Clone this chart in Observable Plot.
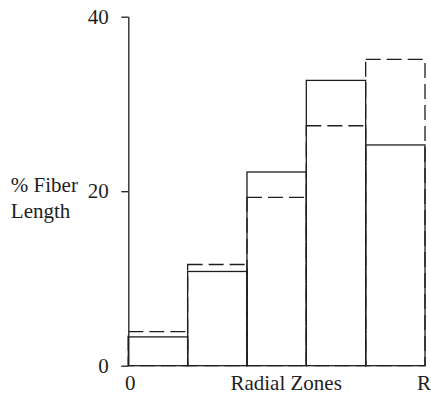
<!DOCTYPE html>
<html>
<head>
<meta charset="utf-8">
<script src="https://cdn.jsdelivr.net/npm/d3@7"></script>
<script src="https://cdn.jsdelivr.net/npm/@observablehq/plot@0.6"></script>
<style>
  html, body { margin: 0; padding: 0; background: #fff; }
</style>
</head>
<body>
<div id="chart"></div>
<script>
// Data
const zoneStart = [0, 1, 2, 3, 4];
const zoneEnd = [1, 2, 3, 4, 5];
const solidValues = [3.3, 10.8, 22.2, 32.7, 25.3];
const dashedValues = [3.9, 11.6, 19.3, 27.5, 35.1];
const yTicks = [0, 20, 40];
const xTicks = [0, 5];
const xTickLabels = ["0", "R"];
const xLabel = "Radial Zones";
const yLabel = "% Fiber\nLength";

const rows = zoneStart.map((s, i) => ({x1: s, x2: zoneEnd[i], solid: solidValues[i], dashed: dashedValues[i]}));

const ink = "#1e1e1e";
const serif = "Liberation Serif";

const chart = Plot.plot({
  width: 431,
  height: 394,
  marginLeft: 128.3,
  marginRight: 6,
  marginTop: 16.7,
  marginBottom: 28.3,
  style: {fontFamily: serif, fontSize: "21px", background: "#fff"},
  x: {domain: [0, 5]},
  y: {domain: [0, 40]},
  marks: [
    Plot.rectY(rows, {x1: "x1", x2: "x2", y: "dashed", fill: "none", stroke: ink, strokeWidth: 1.3, strokeDasharray: "15,6"}),
    Plot.rectY(rows, {x1: "x1", x2: "x2", y: "solid", fill: "none", stroke: ink, strokeWidth: 1.3}),
    Plot.ruleX([0], {stroke: ink, strokeWidth: 1.3}),
    Plot.axisY({ticks: yTicks, tickSize: 7, tickPadding: 13, tickFormat: d => String(d), stroke: ink, strokeWidth: 1.3, fill: ink, fontSize: 21, fontFamily: serif, label: null}),
    Plot.axisX({ticks: [xTicks[0]], tickSize: 0, tickPadding: 8.8, dx: 1.5, tickFormat: () => xTickLabels[0], fill: ink, fontSize: 21, fontFamily: serif, label: null}),
    Plot.text([xTickLabels[1]], {frameAnchor: "bottom-right", textAnchor: "end", lineAnchor: "top", dy: 8.8, dx: 5.5, fontSize: 21, fontFamily: serif, fill: ink}),
    Plot.text([xLabel], {frameAnchor: "bottom", lineAnchor: "top", dy: 8.8, dx: 9, fontSize: 21, fontFamily: serif, fill: ink}),
    Plot.text([yLabel], {frameAnchor: "left", y: [20], textAnchor: "start", lineAnchor: "middle", lineHeight: 1.25, dx: -118, dy: 4.7, fontSize: 21, fontFamily: serif, fill: ink})
  ]
});
document.getElementById("chart").appendChild(chart);
</script>
</body>
</html>
